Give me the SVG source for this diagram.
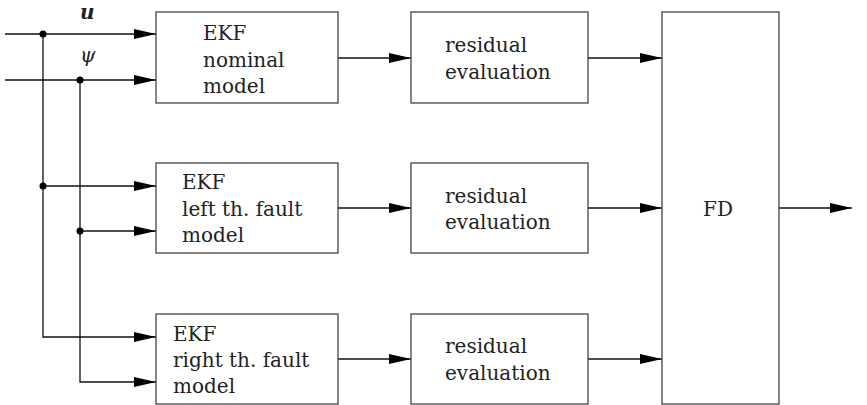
<svg xmlns="http://www.w3.org/2000/svg" width="867" height="405" viewBox="0 0 867 405">
<style>
.box{fill:#fff;stroke:#444;stroke-width:1.3}
.t{font-family:"DejaVu Serif","Liberation Serif",serif;font-size:20px;fill:#222}
.c{fill:none;stroke:#111;stroke-width:1.3}
.dot{fill:#000}
</style>
<defs>
<marker id="ah" markerUnits="userSpaceOnUse" markerWidth="22" markerHeight="10" refX="22" refY="5" orient="auto">
<path d="M0,0 L22,5 L0,10 z" fill="#000"/>
</marker>
</defs>
<g id="connectors">
<path class="c" d="M5,34 H156" marker-end="url(#ah)"/>
<path class="c" d="M5,80 H156" marker-end="url(#ah)"/>
<path class="c" d="M43,34 V337 H156" marker-end="url(#ah)"/>
<path class="c" d="M80,80 V382 H156" marker-end="url(#ah)"/>
<path class="c" d="M43,186 H156" marker-end="url(#ah)"/>
<path class="c" d="M80,231 H156" marker-end="url(#ah)"/>
<path class="c" d="M338,58 H411" marker-end="url(#ah)"/>
<path class="c" d="M338,208 H411" marker-end="url(#ah)"/>
<path class="c" d="M338,359 H411" marker-end="url(#ah)"/>
<path class="c" d="M588,58 H662" marker-end="url(#ah)"/>
<path class="c" d="M588,208 H662" marker-end="url(#ah)"/>
<path class="c" d="M588,359 H662" marker-end="url(#ah)"/>
<path class="c" d="M779,208 H852" marker-end="url(#ah)"/>
<circle class="dot" cx="43" cy="34" r="3.5"/>
<circle class="dot" cx="80" cy="80" r="3.5"/>
<circle class="dot" cx="43" cy="186" r="3.5"/>
<circle class="dot" cx="80" cy="231" r="3.5"/>
<text class="t" x="80" y="19" font-size="17" font-weight="bold" font-style="italic">u</text>
<text class="t" x="80" y="62" font-style="italic">ψ</text>
</g>
<g id="ekf_nominal">
<rect class="box" x="156" y="12" width="182" height="91"/>
<text class="t" x="203" y="40">EKF</text>
<text class="t" x="203" y="67">nominal</text>
<text class="t" x="203" y="93">model</text>
</g>
<g id="ekf_left">
<rect class="box" x="156" y="163" width="182" height="90"/>
<text class="t" x="182" y="189">EKF</text>
<text class="t" x="182" y="216">left th. fault</text>
<text class="t" x="182" y="242">model</text>
</g>
<g id="ekf_right">
<rect class="box" x="156" y="314" width="182" height="90"/>
<text class="t" x="173" y="341">EKF</text>
<text class="t" x="173" y="367">right th. fault</text>
<text class="t" x="173" y="393">model</text>
</g>
<g id="res1">
<rect class="box" x="411" y="12" width="177" height="91"/>
<text class="t" x="445" y="52">residual</text>
<text class="t" x="445" y="79">evaluation</text>
</g>
<g id="res2">
<rect class="box" x="411" y="163" width="177" height="90"/>
<text class="t" x="445" y="203">residual</text>
<text class="t" x="445" y="229">evaluation</text>
</g>
<g id="res3">
<rect class="box" x="411" y="314" width="177" height="90"/>
<text class="t" x="445" y="353">residual</text>
<text class="t" x="445" y="380">evaluation</text>
</g>
<g id="fd">
<rect class="box" x="662" y="12" width="117" height="392"/>
<text class="t" x="703" y="216">FD</text>
</g>
</svg>
